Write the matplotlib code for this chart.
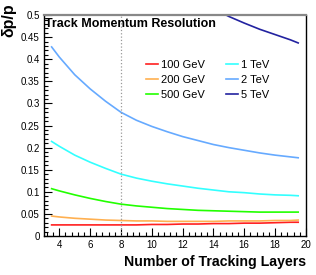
import matplotlib.pyplot as plt
from matplotlib.ticker import MultipleLocator

plt.rcParams['font.family'] = ['Liberation Sans', 'DejaVu Sans']

layers = [3.5, 4, 5, 6, 7, 8, 9, 10, 11, 12, 13, 14, 15, 16, 17, 18, 19, 19.5]

res_100gev = [0.025, 0.025, 0.025, 0.025, 0.025, 0.025, 0.025, 0.026, 0.026,
              0.027, 0.027, 0.028, 0.028, 0.029, 0.029, 0.030, 0.031, 0.031]
res_200gev = [0.045, 0.043, 0.040, 0.038, 0.036, 0.035, 0.034, 0.034, 0.033,
              0.033, 0.033, 0.033, 0.034, 0.034, 0.034, 0.035, 0.035, 0.036]
res_500gev = [0.107, 0.102, 0.093, 0.085, 0.078, 0.072, 0.068, 0.065, 0.062,
              0.060, 0.058, 0.057, 0.056, 0.055, 0.054, 0.054, 0.054, 0.054]
res_1tev = [0.214, 0.203, 0.183, 0.167, 0.153, 0.140, 0.131, 0.124, 0.118,
            0.113, 0.108, 0.104, 0.100, 0.098, 0.095, 0.093, 0.092, 0.091]
res_2tev = [0.428, 0.405, 0.365, 0.333, 0.305, 0.280, 0.262, 0.248, 0.236,
            0.225, 0.216, 0.207, 0.200, 0.194, 0.188, 0.183, 0.179, 0.177]
res_5tev = [1.07, 1.01, 0.91, 0.83, 0.76, 0.70, 0.655, 0.62, 0.59,
            0.56, 0.535, 0.515, 0.497, 0.482, 0.468, 0.456, 0.444, 0.437]

labels = ['100 GeV', '200 GeV', '500 GeV', '1 TeV', '2 TeV', '5 TeV']
colors = ['#ff2020', '#ffb050', '#22ff00', '#33ffff', '#66aaff', '#2222a0']
series = [res_100gev, res_200gev, res_500gev, res_1tev, res_2tev, res_5tev]

fig = plt.figure(figsize=(3.16, 2.75), dpi=100)
ax = fig.add_axes([0.139, 0.142, 0.829, 0.803])

for vals, lab, col in zip(series, labels, colors):
    ax.plot(layers, vals, color=col, lw=1.2, label=lab)

ax.axvline(8, color='#999999', ls=':', lw=0.9)

ax.set_xlim(3, 20)
ax.set_ylim(0, 0.5)
ax.xaxis.set_major_locator(MultipleLocator(2))
ax.xaxis.set_minor_locator(MultipleLocator(0.4))
ax.yaxis.set_minor_locator(MultipleLocator(0.01))
ax.set_yticks([0, 0.05, 0.1, 0.15, 0.2, 0.25, 0.3, 0.35, 0.4, 0.45, 0.5])
ax.set_yticklabels(['0', '0.05', '0.1', '0.15', '0.2', '0.25', '0.3', '0.35',
                    '0.4', '0.45', '0.5'])
ax.tick_params(which='both', direction='in', labelsize=7, width=0.8)
ax.tick_params(which='major', length=6, pad=3)
ax.tick_params(which='minor', length=3)

ax.spines['top'].set_color('#888888')
ax.spines['top'].set_linewidth(1.6)
for s in ['left', 'bottom', 'right']:
    ax.spines[s].set_linewidth(1.0)

ax.text(0.003, 0.985, 'Track Momentum Resolution', transform=ax.transAxes,
        fontsize=9, fontweight='bold', ha='left', va='top')

ax.set_xlabel('Number of Tracking Layers', fontsize=10.2, fontweight='bold')
ax.xaxis.set_label_coords(1.0, -0.087)
ax.xaxis.label.set_ha('right')
ax.set_ylabel('δp/p', fontsize=11.5, fontweight='bold')
ax.yaxis.set_label_coords(-0.132, 1.055)
ax.yaxis.label.set_va('center')
ax.yaxis.label.set_ha('right')

ax.legend(ncol=2, frameon=False, fontsize=8, loc='upper left',
          bbox_to_anchor=(0.37, 0.824), handlelength=1.05, handletextpad=0.3,
          columnspacing=1.85, labelspacing=0.45, borderpad=0)

fig.savefig('out.png', dpi=100)
